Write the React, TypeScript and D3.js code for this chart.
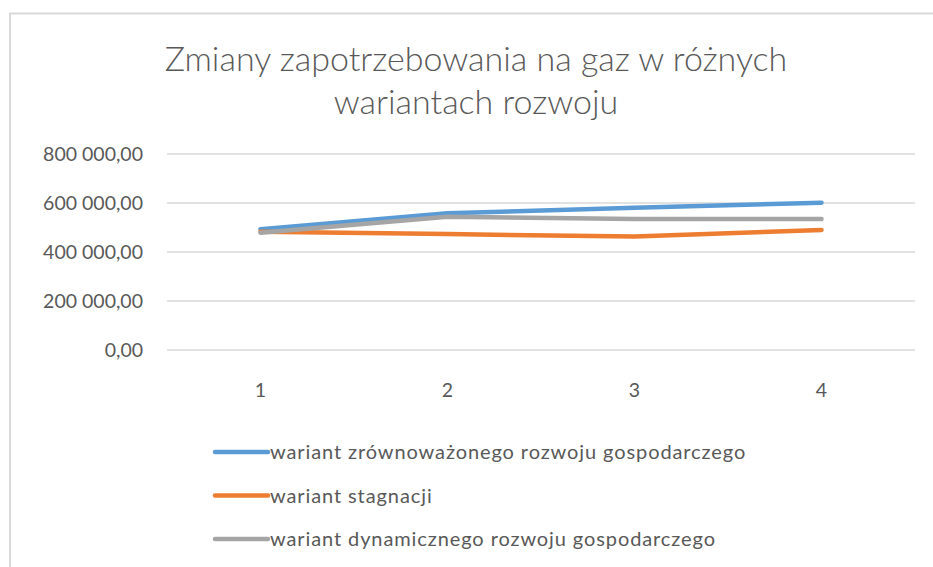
import React from "react";
import * as d3 from "d3";

const categories = ["1", "2", "3", "4"];
const seriesNames = [
  "wariant zrównoważonego rozwoju gospodarczego",
  "wariant stagnacji",
  "wariant dynamicznego rozwoju gospodarczego",
];
const zrownowazony = [493000, 558000, 581000, 601000];
const stagnacja = [483000, 473000, 463000, 490000];
const dynamiczny = [479000, 544000, 535000, 535000];
const yTicks = [0, 200000, 400000, 600000, 800000];
const colors = ["#5b9bd5", "#ed7d31", "#a5a5a5"];
const title = ["Zmiany zapotrzebowania na gaz w różnych", "wariantach rozwoju"];

const W = 933;
const H = 567;
const FONT = "Lato, 'Open Sans', sans-serif";

function fmt(v: number) {
  const s = d3.format(",.2f")(v);
  return s.replace(/,/g, " ").replace(/\.(\d\d)$/, ",$1");
}

export default function App() {
  const x = d3.scaleBand<string>().domain(categories).range([167, 915]);
  const y = d3.scaleLinear().domain([0, 800000]).range([350, 154]);
  const series = [zrownowazony, stagnacja, dynamiczny];
  const line = d3
    .line<number>()
    .x((_, i) => (x(categories[i]) as number) + x.bandwidth() / 2)
    .y((d) => y(d));

  return (
    <svg
      width={W}
      height={H}
      style={{ position: "absolute", left: 0, top: 0, background: "#fff" }}
      fontFamily={FONT}
    >
      <rect x={10} y={13.5} width={W} height={H} fill="#fff" stroke="#d9d9d9" strokeWidth={2} />
      {title.map((t, i) => (
        <text
          key={i}
          x={476}
          y={71 + i * 43}
          textAnchor="middle"
          fontSize={34}
          fontWeight={300}
          fill="#595959"
        >
          {t}
        </text>
      ))}
      {yTicks.map((t) => (
        <g key={t}>
          <line x1={167} x2={915} y1={y(t)} y2={y(t)} stroke="#d9d9d9" strokeWidth={1.3} />
          <text x={143} y={y(t)} dy="0.35em" textAnchor="end" fontSize={19.5} fill="#595959">
            {fmt(t)}
          </text>
        </g>
      ))}
      {categories.map((c) => (
        <text
          key={c}
          x={(x(c) as number) + x.bandwidth() / 2}
          y={390}
          dy="0.35em"
          textAnchor="middle"
          fontSize={19.5}
          fill="#595959"
        >
          {c}
        </text>
      ))}
      {series.map((s, i) => (
        <path
          key={i}
          d={line(s) as string}
          fill="none"
          stroke={colors[i]}
          strokeWidth={4.5}
          strokeLinecap="round"
          strokeLinejoin="round"
        />
      ))}
      {seriesNames.map((n, i) => (
        <g key={n}>
          <line
            x1={215}
            x2={268}
            y1={452 + i * 43.5}
            y2={452 + i * 43.5}
            stroke={colors[i]}
            strokeWidth={4.5}
            strokeLinecap="round"
          />
          <text
            x={270}
            y={452 + i * 43.5}
            dy="0.35em"
            fontSize={20}
            letterSpacing={0.9}
            fill="#595959"
          >
            {n}
          </text>
        </g>
      ))}
    </svg>
  );
}
